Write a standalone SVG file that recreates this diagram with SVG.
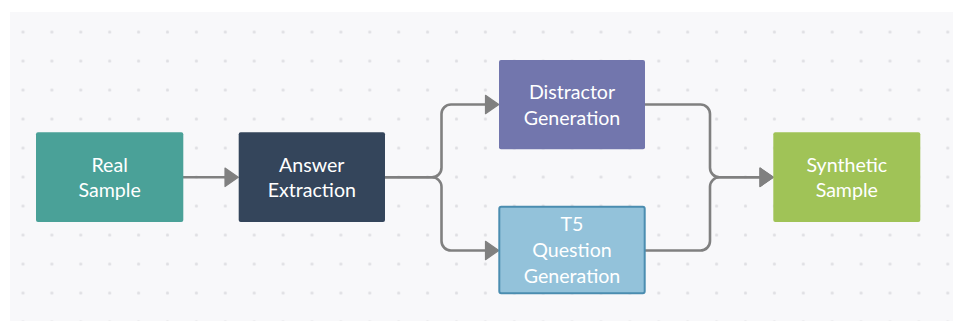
<svg xmlns="http://www.w3.org/2000/svg" width="953" height="321" viewBox="0 0 953 321">
  <style>
    .bg { fill: #f8f8fa; }
    .box { stroke: none; }
    .lbl { font-family: Lato, "Open Sans", "Liberation Sans", sans-serif; font-size: 19.6px; fill: #ffffff; text-anchor: middle; }
    .conn { fill: none; stroke: #808080; stroke-width: 2.6; }
  </style>
  <defs>
    <pattern id="dots" patternUnits="userSpaceOnUse" x="8.55" y="17.5" width="28.9" height="29">
      <circle cx="14.45" cy="14.5" r="1.6" fill="#dfdfe3"/>
    </pattern>
    <marker id="arr" markerUnits="userSpaceOnUse" markerWidth="16" markerHeight="22" refX="0.5" refY="10" orient="auto" overflow="visible">
      <path d="M0.5,0.8 L13.8,10 L0.5,19.2 Z" fill="#808080" stroke="#808080" stroke-width="1.2" stroke-linejoin="round"/>
    </marker>
  </defs>
  <rect width="953" height="321" fill="#ffffff"/>
  <rect class="bg" x="10" y="12" width="943" height="309"/>
  <rect x="10" y="12" width="943" height="309" fill="url(#dots)"/>

  <g id="connectors">
    <path class="conn" d="M183,177.3 H225" marker-end="url(#arr)"/>
    <path class="conn" d="M385,177.3 H432 A9.5,9.5 0 0 0 441.5,167.8 V114 A9.5,9.5 0 0 1 451,104.5 H485.5" marker-end="url(#arr)"/>
    <path class="conn" d="M385,177.3 H432 A9.5,9.5 0 0 1 441.5,186.8 V241 A9.5,9.5 0 0 0 451,250.5 H485.5" marker-end="url(#arr)"/>
    <path class="conn" d="M645,104.5 H700.5 A9.5,9.5 0 0 1 710,114 V167.8 A9.5,9.5 0 0 0 719.5,177.3 H760" marker-end="url(#arr)"/>
    <path class="conn" d="M645,250.5 H700.5 A9.5,9.5 0 0 0 710,241 V186.8 A9.5,9.5 0 0 1 719.5,177.3 H760" marker-end="url(#arr)"/>
  </g>

  <g id="real-sample">
    <rect class="box" x="36" y="132.3" width="147.3" height="89.7" rx="2" fill="#4aa198"/>
    <text class="lbl" x="109.6" y="171.5">Real</text>
    <text class="lbl" x="109.6" y="197">Sample</text>
  </g>

  <g id="answer-extraction">
    <rect class="box" x="238.7" y="132.3" width="146.3" height="89.7" rx="2" fill="#34455b"/>
    <text class="lbl" x="311.8" y="171.5">Answer</text>
    <text class="lbl" x="311.8" y="197">Extraction</text>
  </g>

  <g id="distractor-generation">
    <rect class="box" x="499" y="60" width="146" height="89.3" rx="2" fill="#7276ad"/>
    <text class="lbl" x="572" y="99">Distractor</text>
    <text class="lbl" x="572" y="125">Generation</text>
  </g>

  <g id="t5-question-generation">
    <rect x="499.3" y="206.7" width="145.4" height="86.6" rx="2" fill="#93c2da" stroke="#4b8db0" stroke-width="2"/>
    <text class="lbl" x="572" y="230.5">T5</text>
    <text class="lbl" x="572" y="257">Question</text>
    <text class="lbl" x="572" y="283.3">Generation</text>
  </g>

  <g id="synthetic-sample">
    <rect class="box" x="773.3" y="132.3" width="147" height="89.7" rx="2" fill="#a0c357"/>
    <text class="lbl" x="846.8" y="171.5">Synthetic</text>
    <text class="lbl" x="846.8" y="197">Sample</text>
  </g>
</svg>
